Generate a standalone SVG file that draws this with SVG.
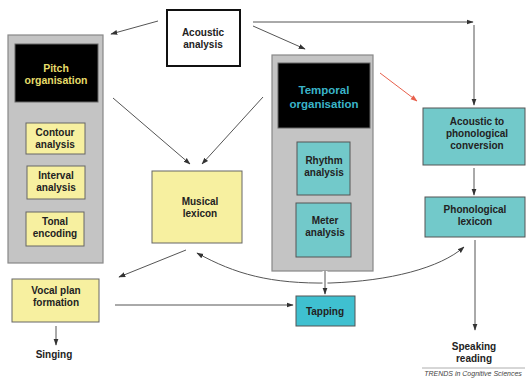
<svg xmlns="http://www.w3.org/2000/svg" width="526" height="381" viewBox="0 0 526 381">
<defs>
<marker id="ah" viewBox="0 0 10 10" refX="9" refY="5" markerWidth="7" markerHeight="7" orient="auto" markerUnits="userSpaceOnUse"><path d="M0,1.5 L10,5 L0,8.5 z" fill="#333"/></marker>
<marker id="ahr" viewBox="0 0 10 10" refX="9" refY="5" markerWidth="7" markerHeight="7" orient="auto" markerUnits="userSpaceOnUse"><path d="M0,1.5 L10,5 L0,8.5 z" fill="#e8604c"/></marker>
</defs>
<style>
text{font-family:"Liberation Sans",Arial,sans-serif;font-weight:bold;font-size:10px;fill:#222;text-anchor:middle}
.grey{fill:#c4c4c4;stroke:#888;stroke-width:1.2}
.blk{fill:#000;stroke:#666;stroke-width:1}
.yel{fill:#f7f0a0;stroke:#666;stroke-width:1}
.cy{fill:#72c9ca;stroke:#555;stroke-width:1}
.tap{fill:#3fc0d0;stroke:#555;stroke-width:1}
.ln{fill:none;stroke:#555;stroke-width:1;marker-end:url(#ah)}
.yt{fill:#e6dc6a;font-size:10.5px}
.ct{fill:#3ab4c8;font-size:11.5px}
</style>
<rect width="526" height="381" fill="#fff"/>
<g id="acoustic"><rect x="167" y="10" width="73" height="56" fill="#fff" stroke="#111" stroke-width="2"/><text x="203" y="36">Acoustic</text><text x="203" y="48">analysis</text></g>
<g id="pitch"><rect class="grey" x="8" y="35" width="95" height="228"/><rect class="blk" x="15" y="44" width="83" height="58"/><text class="yt" x="56" y="72">Pitch</text><text class="yt" x="56" y="84">organisation</text></g>
<g id="contour"><rect class="yel" x="26" y="123" width="59" height="31"/><text x="55" y="136">Contour</text><text x="55" y="148">analysis</text></g>
<g id="interval"><rect class="yel" x="27" y="166" width="58" height="33"/><text x="56" y="179">Interval</text><text x="56" y="191">analysis</text></g>
<g id="tonal"><rect class="yel" x="26" y="212" width="58" height="34"/><text x="55" y="225">Tonal</text><text x="55" y="237">encoding</text></g>
<g id="musical"><rect class="yel" x="152" y="171" width="90" height="72"/><text x="200" y="205">Musical</text><text x="200" y="217">lexicon</text></g>
<g id="vocal"><rect class="yel" x="12" y="279" width="87" height="43"/><text x="56" y="294">Vocal plan</text><text x="56" y="306">formation</text></g>
<g id="singing"><text x="54" y="358">Singing</text></g>
<g id="temporal"><rect class="grey" x="272" y="55" width="101" height="216"/><rect class="blk" x="278" y="63" width="92" height="65"/><text class="ct" x="324" y="94">Temporal</text><text class="ct" x="324" y="108">organisation</text></g>
<g id="rhythm"><rect class="cy" x="297" y="142" width="53" height="53"/><text x="324" y="164">Rhythm</text><text x="324" y="176">analysis</text></g>
<g id="meter"><rect class="cy" x="296" y="203" width="55" height="54"/><text x="325" y="224">Meter</text><text x="325" y="236">analysis</text></g>
<g id="tapping"><rect class="tap" x="296" y="296" width="59" height="30"/><text x="325" y="315">Tapping</text></g>
<g id="a2p"><rect class="cy" x="423" y="108" width="102" height="57"/><text x="477" y="125">Acoustic to</text><text x="477" y="137">phonological</text><text x="477" y="149">conversion</text></g>
<g id="phonlex"><rect class="cy" x="425" y="197" width="100" height="40"/><text x="475" y="213">Phonological</text><text x="475" y="225">lexicon</text></g>
<g id="speaking"><text x="474" y="350">Speaking</text><text x="474" y="362">reading</text></g>
<g id="credit"><line x1="422" y1="368" x2="525" y2="368" stroke="#999" stroke-width="0.8"/><text x="473" y="376" style="font-size:7px;font-weight:normal;font-style:italic;fill:#444">TRENDS in Cognitive Sciences</text></g>
<g id="connectors">
<line class="ln" x1="158" y1="21" x2="111" y2="34"/>
<line class="ln" x1="253" y1="22" x2="473" y2="22"/>
<line class="ln" x1="474" y1="25" x2="474" y2="105"/>
<line class="ln" x1="253" y1="26" x2="305" y2="49"/>
<line class="ln" x1="113" y1="98" x2="190" y2="164"/>
<line class="ln" x1="263" y1="97" x2="202" y2="164"/>
<line x1="380" y1="73" x2="417" y2="101" stroke="#e8604c" stroke-width="1" marker-end="url(#ahr)"/>
<line class="ln" x1="474" y1="168" x2="474" y2="195"/>
<line class="ln" x1="186" y1="250" x2="119" y2="277"/>
<path d="M330,283 C270,284 235,274 197,253" class="ln"/>
<path d="M330,283 C390,281 440,268 464,247" class="ln"/>
<line x1="325" y1="271" x2="325" y2="294" stroke="#fff" stroke-width="5"/>
<line class="ln" x1="325" y1="271" x2="325" y2="294"/>
<line class="ln" x1="115" y1="305" x2="293" y2="305"/>
<line class="ln" x1="56" y1="326" x2="56" y2="345"/>
<line class="ln" x1="475" y1="240" x2="475" y2="330"/>
</g>
</svg>
